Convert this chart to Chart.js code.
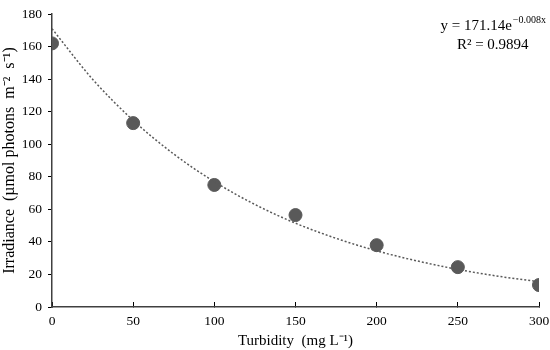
<!DOCTYPE html>
<html lang="en">
<head>
<meta charset="UTF-8">
<title>Irradiance vs Turbidity</title>
<script src="https://cdn.jsdelivr.net/npm/chart.js@4.4.5/dist/chart.umd.min.js"></script>
<style>
  body { margin: 0; background: #fff; }
</style>
</head>
<body>
<canvas id="myChart" width="550" height="350"></canvas>
<script>
    // measured points
    const turbidity = [0, 50, 100, 150, 200, 250, 300];
    const irradiance = [162, 113, 75, 56.5, 38, 24.5, 13.5];

    // trendline
    const trendX = [0, 25, 50, 75, 100, 125, 150, 175, 200, 225, 250, 275, 300];
    const trendY = [171, 140, 114.7, 94, 77, 63, 51.5, 42.2, 34.5, 28.3, 23.1, 18.9, 15.5];

    const xTicks = [0, 50, 100, 150, 200, 250, 300];
    const yTicks = [0, 20, 40, 60, 80, 100, 120, 140, 160, 180];

    const eqMain = 'y = 171.14e';
    const eqExp = '\u22120.008x';
    const r2Text = 'R\u00b2 = 0.9894';

    const serif = "'Liberation Serif', 'Times New Roman', serif";
    const grey = '#595959';

    const equationLabel = {
        id: 'equationLabel',
        afterDraw(chart) {
            const ctx = chart.ctx;
            ctx.save();
            ctx.fillStyle = '#000';
            ctx.textBaseline = 'alphabetic';
            ctx.font = '15px ' + serif;
            const w1 = ctx.measureText(eqMain).width;
            ctx.font = '10px ' + serif;
            const w2 = ctx.measureText(eqExp).width;
            const right = 545;
            const x0 = right - w1 - w2;
            ctx.font = '15px ' + serif;
            ctx.fillText(eqMain, x0, 30);
            ctx.font = '10px ' + serif;
            ctx.fillText(eqExp, x0 + w1 + 1, 23);
            ctx.font = '15px ' + serif;
            ctx.textAlign = 'center';
            ctx.fillText(r2Text, x0 + (w1 + w2) / 2, 49);
            ctx.restore();
        }
    };

    const config = {
        type: 'scatter',
        data: {
            datasets: [{
                label: 'Trend',
                type: 'line',
                data: trendX.map((x, i) => ({x: x, y: trendY[i]})),
                borderColor: grey,
                borderWidth: 1.5,
                borderDash: [2, 2],
                pointRadius: 0,
                cubicInterpolationMode: 'monotone',
                fill: false
            }, {
                label: 'Irradiance',
                data: turbidity.map((x, i) => ({x: x, y: irradiance[i]})),
                backgroundColor: grey,
                borderColor: grey,
                pointRadius: 6.5,
                pointHoverRadius: 6.5
            }]
        },
        options: {
            responsive: false,
            animation: false,
            layout: {
                padding: {top: 8, right: 2, left: 0, bottom: 0}
            },
            scales: {
                x: {
                    type: 'linear',
                    min: 0,
                    max: 300,
                    afterBuildTicks: (axis) => { axis.ticks = xTicks.map(v => ({value: v})); },
                    afterFit: (axis) => {
                        axis.height = 43;
                        axis.paddingLeft = 0;
                        axis.paddingRight = 11;
                    },
                    grid: {
                        display: true,
                        drawOnChartArea: false,
                        tickLength: -5,
                        color: '#000'
                    },
                    border: {color: '#404040', width: 1.5},
                    ticks: {
                        color: '#000',
                        padding: 11,
                        maxRotation: 0,
                        font: {family: serif, size: 13.5}
                    },
                    title: {
                        display: true,
                        text: 'Turbidity  (mg L\u207b\u00b9)',
                        color: '#000',
                        padding: {top: 0, bottom: 0},
                        font: {family: serif, size: 15}
                    }
                },
                y: {
                    min: 0,
                    max: 180,
                    afterBuildTicks: (axis) => { axis.ticks = yTicks.map(v => ({value: v})); },
                    afterFit: (axis) => { axis.width = 52; },
                    grid: {
                        display: true,
                        drawOnChartArea: false,
                        tickLength: 4,
                        color: '#000'
                    },
                    border: {color: '#404040', width: 1.5},
                    ticks: {
                        color: '#000',
                        padding: 6,
                        font: {family: serif, size: 13.5}
                    },
                    title: {
                        display: true,
                        text: 'Irradiance  (\u00b5mol photons  m\u207b\u00b2  s\u207b\u00b9)',
                        color: '#000',
                        padding: {top: 0, bottom: 2},
                        font: {family: serif, size: 16}
                    }
                }
            },
            plugins: {
                legend: {display: false},
                tooltip: {enabled: false}
            }
        },
        plugins: [equationLabel]
    };

    const ctx = document.getElementById('myChart').getContext('2d');
    const myChart = new Chart(ctx, config);
</script>
</body>
</html>
